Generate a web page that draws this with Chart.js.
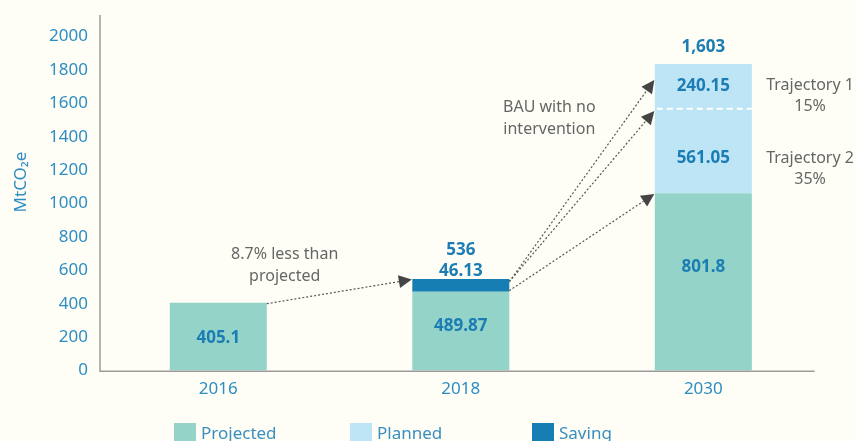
<!DOCTYPE html>
<html>
<head>
<meta charset="utf-8">
<script src="https://cdn.jsdelivr.net/npm/chart.js@4/dist/chart.umd.min.js"></script>
<style>
  html, body { margin: 0; padding: 0; background: #fefef6; overflow: hidden; }
  #chart { display: block; }
</style>
</head>
<body>
<canvas id="chart" width="856" height="441"></canvas>
<script>
// data (bar heights as drawn, labels as printed)
const years = ["2016", "2018", "2030"];
const projected = [406, 472, 1061];
const planned = [0, 0, 774];
const saving = [0, 76, 0];

const projectedLabels = ["405.1", "489.87", "801.8"];
const plannedLabels = ["", "", "561.05"];
const trajectoryLabels = ["", "", "240.15"];
const savingLabels = ["", "46.13", ""];
const totalLabels = ["", "536", "1,603"];

const yTicks = [0, 200, 400, 600, 800, 1000, 1200, 1400, 1600, 1800, 2000];
const trajectorySplit = 1568; // dashed line inside the 2030 planned bar

const FONT = "'Noto Sans', 'DejaVu Sans', sans-serif";
const TICK_COLOR = "#2e8dc3";
const LABEL_COLOR = "#1b7db4";
const NOTE_COLOR = "#666666";

const ctx = document.getElementById("chart");

// where the printed numbers sit (y in data units)
const labelAnchors = {
  projected: [193, 266, 618],
  planned: [0, 0, 1271],
  trajectory: [0, 0, 1704],
  saving: [0, 592, 0],
  total: [0, 722, 1935]
};

// arrows: from bar (right edge) at value -> bar (left edge) at value
const arrows = [
  { from: [0, 400], to: [1, 545] },
  { from: [1, 532], to: [2, 1740] },
  { from: [1, 532], to: [2, 1554] },
  { from: [1, 478], to: [2, 1057] }
];

// grey notes: x as category position, y of first line in data units
const notes = [
  { at: 0.274, y: 695, lines: ["8.7% less than", "projected"] },
  { at: 1.365, y: 1574, lines: ["BAU with no", "intervention"] },
  { at: 2.44, y: 1710, lines: ["Trajectory 1", "15%"] },
  { at: 2.44, y: 1271, lines: ["Trajectory 2", "35%"] }
];

function drawArrow(c, x1, y1, x2, y2) {
  const ang = Math.atan2(y2 - y1, x2 - x1);
  const len = 13, half = 6.5;
  const bx = x2 - Math.cos(ang) * len, by = y2 - Math.sin(ang) * len;
  c.save();
  c.strokeStyle = "#555";
  c.lineWidth = 1.2;
  c.setLineDash([2, 2]);
  c.beginPath();
  c.moveTo(x1, y1);
  c.lineTo(bx, by);
  c.stroke();
  c.setLineDash([]);
  c.fillStyle = "#444";
  c.beginPath();
  c.moveTo(x2, y2);
  c.lineTo(bx + Math.sin(ang) * half, by - Math.cos(ang) * half);
  c.lineTo(bx - Math.sin(ang) * half, by + Math.cos(ang) * half);
  c.closePath();
  c.fill();
  c.restore();
}

const extras = {
  id: "extras",
  afterDatasetsDraw(chart) {
    const c = chart.ctx;
    const area = chart.chartArea;
    const x = chart.scales.x, y = chart.scales.y;
    const bars = chart.getDatasetMeta(0).data;
    const step = x.getPixelForValue(1) - x.getPixelForValue(0);
    const px = (i) => x.getPixelForValue(0) + i * step;

    // axis lines
    c.save();
    c.strokeStyle = "#9a9a9a";
    c.lineWidth = 1.5;
    c.beginPath();
    c.moveTo(area.left + 3, area.top);
    c.lineTo(area.left + 3, area.bottom + 0.75);
    c.lineTo(area.right - 10, area.bottom + 0.75);
    c.stroke();
    c.restore();

    // dashed split in the 2030 planned bar
    const b2 = bars[2];
    c.save();
    c.strokeStyle = "#ffffff";
    c.lineWidth = 2;
    c.setLineDash([6, 4]);
    c.beginPath();
    const ys = y.getPixelForValue(trajectorySplit);
    c.moveTo(b2.x - b2.width / 2 + 2, ys);
    c.lineTo(b2.x + b2.width / 2, ys);
    c.stroke();
    c.restore();

    // numbers
    c.save();
    c.font = "bold 17px " + FONT;
    c.fillStyle = LABEL_COLOR;
    c.textAlign = "center";
    c.textBaseline = "middle";
    const sets = [
      [projectedLabels, labelAnchors.projected],
      [plannedLabels, labelAnchors.planned],
      [trajectoryLabels, labelAnchors.trajectory],
      [savingLabels, labelAnchors.saving],
      [totalLabels, labelAnchors.total]
    ];
    sets.forEach(([txt, pos]) => {
      txt.forEach((t, i) => {
        if (t) c.fillText(t, bars[i].x, y.getPixelForValue(pos[i]));
      });
    });
    c.restore();

    // notes
    c.save();
    c.font = "16px " + FONT;
    c.fillStyle = NOTE_COLOR;
    c.textAlign = "center";
    c.textBaseline = "middle";
    notes.forEach(n => {
      n.lines.forEach((l, k) => c.fillText(l, px(n.at), y.getPixelForValue(n.y) + k * 21.5));
    });
    c.restore();

    // arrows
    arrows.forEach(a => {
      const s = bars[a.from[0]], e = bars[a.to[0]];
      drawArrow(c,
        s.x + s.width / 2, y.getPixelForValue(a.from[1]),
        e.x - e.width / 2 - 0.5, y.getPixelForValue(a.to[1]));
    });

    // y title
    c.save();
    c.translate(21, 182);
    c.rotate(-Math.PI / 2);
    c.font = "17px " + FONT;
    c.fillStyle = TICK_COLOR;
    c.textAlign = "center";
    c.textBaseline = "middle";
    c.fillText("MtCO\u2082e", 0, 0);
    c.restore();

    // legend
    const legendX = [174, 350, 532];
    c.save();
    c.font = "17px " + FONT;
    c.textBaseline = "alphabetic";
    chart.data.datasets.forEach((ds, i) => {
      c.fillStyle = ds.backgroundColor;
      c.fillRect(legendX[i], 423, 22, 22);
      c.fillStyle = "#3a8fc0";
      c.fillText(ds.label, legendX[i] + 27, 439);
    });
    c.restore();
  }
};

new Chart(ctx, {
  type: "bar",
  data: {
    labels: years,
    datasets: [
      { label: "Projected", data: projected, backgroundColor: "#94d3c8" },
      { label: "Planned", data: planned, backgroundColor: "#bde5f5" },
      { label: "Saving", data: saving, backgroundColor: "#167eb2" }
    ]
  },
  options: {
    responsive: false,
    animation: false,
    devicePixelRatio: 1,
    layout: { padding: { left: 0, right: 31.4, top: 15, bottom: 0 } },
    datasets: { bar: { barPercentage: 0.4, categoryPercentage: 1 } },
    plugins: { legend: { display: false }, tooltip: { enabled: false } },
    scales: {
      x: {
        stacked: true,
        grid: { display: false, drawTicks: false },
        border: { display: false },
        ticks: { color: TICK_COLOR, font: { family: FONT, size: 17 }, padding: 8 },
        afterFit: s => { s.height = 70.5; s.paddingLeft = 0; s.paddingRight = 0; }
      },
      y: {
        stacked: true,
        min: 0,
        max: 2129,
        grid: { display: false, drawTicks: false },
        border: { display: false },
        ticks: {
          color: TICK_COLOR, font: { family: FONT, size: 17 }, padding: 9,
          callback: v => String(v)
        },
        afterBuildTicks: s => { s.ticks = yTicks.map(v => ({ value: v })); },
        afterFit: s => { s.width = 97; s.paddingTop = 0; s.paddingBottom = 0; }
      }
    }
  },
  plugins: [extras]
});
</script>
</body>
</html>
